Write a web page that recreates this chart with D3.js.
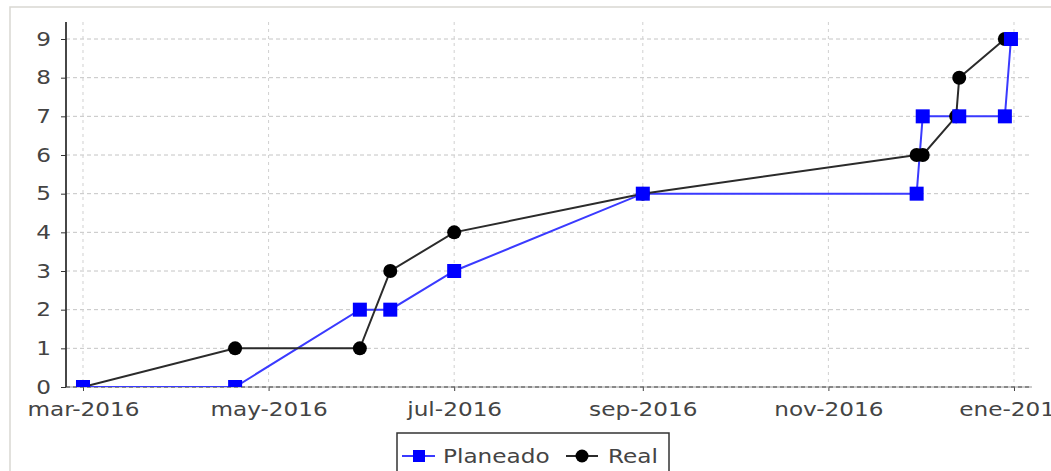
<!DOCTYPE html>
<html>
<head>
<meta charset="utf-8">
<script src="https://cdn.jsdelivr.net/npm/d3@7"></script>
<style>
  body { margin: 0; background: #fff; }
  text { font-family: "DejaVu Sans", sans-serif; fill: #444; }
</style>
</head>
<body>
<div id="chart"></div>
<script>
var planDates = ["2016-03-01", "2016-04-20", "2016-05-31", "2016-06-10", "2016-07-01", "2016-09-01",
  "2016-11-30", "2016-12-02", "2016-12-14", "2016-12-29", "2016-12-31"];
var planValues = [0, 0, 2, 2, 3, 5, 5, 7, 7, 7, 9];

var realDates = ["2016-03-01", "2016-04-20", "2016-05-31", "2016-06-10", "2016-07-01", "2016-09-01",
  "2016-11-30", "2016-12-02", "2016-12-13", "2016-12-14", "2016-12-29"];
var realValues = [0, 1, 1, 3, 4, 5, 6, 6, 7, 8, 9];

var xTickDates = ["2016-03-01", "2016-05-01", "2016-07-01", "2016-09-01", "2016-11-01", "2017-01-01"];
var xTickLabels = ["mar-2016", "may-2016", "jul-2016", "sep-2016", "nov-2016", "ene-2017"];
var yTicks = [0, 1, 2, 3, 4, 5, 6, 7, 8, 9];

var seriesNames = ["Planeado", "Real"];

var width = 1051, height = 471;
var plot = {left: 66, right: 1032, top: 22, bottom: 387};
var stretch = 1.22; // labels in the picture are wider than the font

var parse = d3.timeParse("%Y-%m-%d");

var plan = planDates.map(function(d, i) { return {date: parse(d), value: planValues[i]}; });
var real = realDates.map(function(d, i) { return {date: parse(d), value: realValues[i]}; });
var tickDates = xTickDates.map(parse);

var x = d3.scaleTime()
  .domain([new Date(2016, 1, 24, 10), new Date(2017, 0, 6, 22)])
  .range([plot.left, plot.right]);
var y = d3.scaleLinear()
  .domain([0, 9.44])
  .range([plot.bottom, plot.top]);

var svg = d3.select("#chart").append("svg")
  .attr("width", width)
  .attr("height", height);

// outer frame (only top and left edges show)
svg.append("path")
  .attr("d", "M10," + height + "V7H" + width)
  .attr("fill", "none")
  .attr("stroke", "#d9d8d2")
  .attr("stroke-width", 1.5);

svg.append("clipPath").attr("id", "plotClip")
  .append("rect")
  .attr("x", plot.left).attr("y", plot.top)
  .attr("width", plot.right - plot.left)
  .attr("height", plot.bottom - plot.top);

// gridlines
svg.append("g").selectAll("line")
  .data(yTicks.filter(function(d) { return d > 0; }))
  .enter().append("line")
  .attr("x1", plot.left).attr("x2", plot.right)
  .attr("y1", function(d) { return y(d); })
  .attr("y2", function(d) { return y(d); })
  .attr("stroke", "#c4c4c4")
  .attr("stroke-dasharray", "4,3");

svg.append("g").selectAll("line")
  .data(tickDates)
  .enter().append("line")
  .attr("x1", function(d) { return x(d); })
  .attr("x2", function(d) { return x(d); })
  .attr("y1", plot.top).attr("y2", plot.bottom)
  .attr("stroke", "#d0d0d0")
  .attr("stroke-dasharray", "3,4");

// x axis
var xAxis = d3.axisBottom(x)
  .tickValues(tickDates)
  .tickSize(4)
  .tickPadding(12)
  .tickFormat(function(d, i) { return xTickLabels[i]; });

var gx = svg.append("g")
  .attr("transform", "translate(0," + plot.bottom + ")")
  .call(xAxis);
gx.select(".domain").remove();
gx.selectAll(".tick line").attr("stroke", "#444");
gx.selectAll(".tick text")
  .style("font-size", "19px")
  .attr("fill", "#444")
  .attr("transform", "scale(" + stretch + ",1)");

gx.append("line")
  .attr("x1", plot.left).attr("x2", plot.right)
  .attr("stroke", "#9a9a9a");
gx.append("line")
  .attr("x1", plot.left).attr("x2", plot.right)
  .attr("stroke", "#444")
  .attr("stroke-dasharray", "4,3");

// y axis
var yAxis = d3.axisLeft(y)
  .tickValues(yTicks)
  .tickSize(5)
  .tickPadding(0)
  .tickFormat(d3.format("d"));

var gy = svg.append("g")
  .attr("transform", "translate(" + plot.left + ",0)")
  .call(yAxis);
gy.select(".domain").remove();
gy.selectAll(".tick line").attr("stroke", "#333");
gy.selectAll(".tick text")
  .style("font-size", "19px")
  .attr("fill", "#444")
  .attr("x", -15 / stretch)
  .attr("transform", "scale(" + stretch + ",1)");
gy.append("line")
  .attr("y1", plot.top).attr("y2", plot.bottom)
  .attr("stroke", "#333")
  .attr("stroke-width", 1.8);

// series
var line = d3.line()
  .x(function(d) { return x(d.date); })
  .y(function(d) { return y(d.value); });

var marks = svg.append("g").attr("clip-path", "url(#plotClip)");

marks.append("path")
  .datum(plan)
  .attr("d", line)
  .attr("fill", "none")
  .attr("stroke", "#3a3aff")
  .attr("stroke-width", 2);

marks.append("path")
  .datum(real)
  .attr("d", line)
  .attr("fill", "none")
  .attr("stroke", "#2b2b2b")
  .attr("stroke-width", 2);

marks.selectAll(".dotReal")
  .data(real)
  .enter().append("circle")
  .attr("class", "dotReal")
  .attr("cx", function(d) { return x(d.date); })
  .attr("cy", function(d) { return y(d.value); })
  .attr("r", 7)
  .attr("fill", "#000");

marks.selectAll(".sqPlan")
  .data(plan)
  .enter().append("rect")
  .attr("class", "sqPlan")
  .attr("x", function(d) { return x(d.date) - 7; })
  .attr("y", function(d) { return y(d.value) - 7; })
  .attr("width", 14)
  .attr("height", 14)
  .attr("fill", "#0000ff");

// legend
var legend = svg.append("g");
legend.append("rect")
  .attr("x", 397).attr("y", 433)
  .attr("width", 272).attr("height", 50)
  .attr("fill", "#fff")
  .attr("stroke", "#333")
  .attr("stroke-width", 1.5);

legend.append("line")
  .attr("x1", 402).attr("x2", 435).attr("y1", 456).attr("y2", 456)
  .attr("stroke", "#3a3aff").attr("stroke-width", 2);
legend.append("rect")
  .attr("x", 413).attr("y", 450).attr("width", 12).attr("height", 12)
  .attr("fill", "#0000ff");
legend.append("text")
  .attr("x", 443 / stretch).attr("y", 463)
  .attr("transform", "scale(" + stretch + ",1)")
  .style("font-size", "19px")
  .text(seriesNames[0]);

legend.append("line")
  .attr("x1", 566).attr("x2", 598).attr("y1", 456).attr("y2", 456)
  .attr("stroke", "#2b2b2b").attr("stroke-width", 2);
legend.append("circle")
  .attr("cx", 582).attr("cy", 456).attr("r", 6.5)
  .attr("fill", "#000");
legend.append("text")
  .attr("x", 608 / stretch).attr("y", 463)
  .attr("transform", "scale(" + stretch + ",1)")
  .style("font-size", "19px")
  .text(seriesNames[1]);
</script>
</body>
</html>
